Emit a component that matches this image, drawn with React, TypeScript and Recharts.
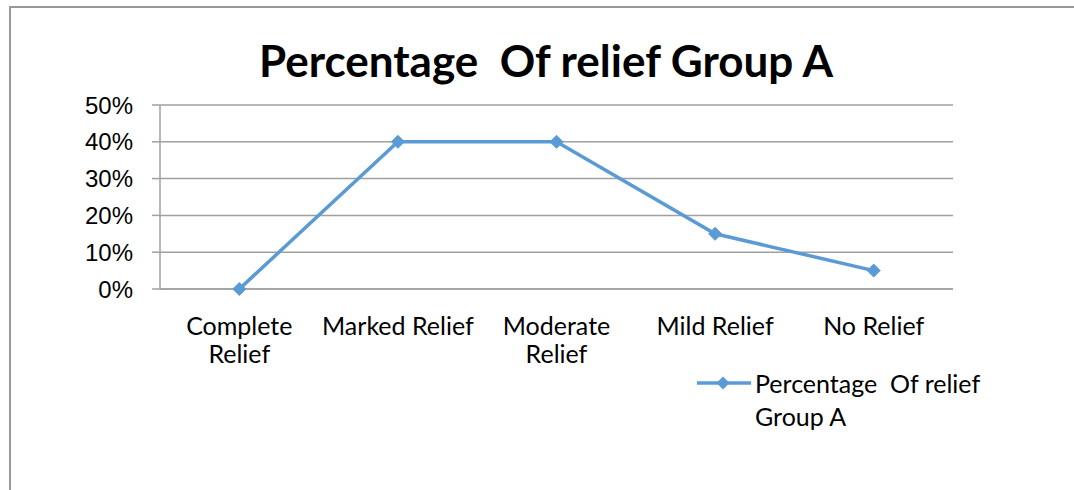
import React from 'react';
import { LineChart, Line, XAxis, YAxis, CartesianGrid, Legend } from 'recharts';

// Relief categories and the share of patients in each
const categories = ['Complete Relief', 'Marked Relief', 'Moderate Relief', 'Mild Relief', 'No Relief'];
const reliefValues = [0, 40, 40, 15, 5];
const yTicks = [0, 10, 20, 30, 40, 50];
const categoryBounds = [0, 1, 2, 3, 4, 5];
const seriesName = 'Percentage  Of relief Group A';
const titleText = 'Percentage  Of relief Group A';

const data = categories.map((category, i) => ({ category, value: reliefValues[i] }));

const LINE_COLOR = '#5B9BD5';
const GRID_COLOR = '#a0a0a0';
const LABEL_FONT = 'Lato, "Open Sans", sans-serif';

const Diamond = (props: any) => {
  const { cx, cy } = props;
  if (cx == null || cy == null) return null;
  const r = 6.5;
  return (
    <polygon
      points={`${cx},${cy - r} ${cx + r},${cy} ${cx},${cy + r} ${cx - r},${cy}`}
      fill={LINE_COLOR}
      stroke={LINE_COLOR}
      strokeWidth={1}
    />
  );
};

// Long labels break onto a second line at the last space
const splitLabel = (label: string): string[] => {
  if (label.length <= 13) return [label];
  const cut = label.lastIndexOf(' ');
  return [label.slice(0, cut), label.slice(cut + 1)];
};

const CategoryTick = (props: any) => {
  const { x, y, payload } = props;
  const lines = splitLabel(String(payload.value));
  return (
    <text x={x} y={y} textAnchor="middle" fill="#000" fontFamily={LABEL_FONT} fontSize={25}>
      {lines.map((ln, i) => (
        <tspan key={i} x={x} y={y + 38 + i * 28}>
          {ln}
        </tspan>
      ))}
    </text>
  );
};

const LegendContent = () => (
  <svg width={320} height={80} style={{ display: 'block', overflow: 'visible' }}>
    <line x1={0} y1={23} x2={54} y2={23} stroke={LINE_COLOR} strokeWidth={3.5} />
    <polygon points="26,16.5 32.5,23 26,29.5 19.5,23" fill={LINE_COLOR} />
    <text x={58} y={33} fill="#000" fontFamily={LABEL_FONT} fontSize={25} style={{ whiteSpace: 'pre' }}>
      <tspan x={58} y={33}>Percentage  Of relief</tspan>
      <tspan x={58} y={66}>Group A</tspan>
    </text>
  </svg>
);

export default function App() {
  return (
    <div style={{ position: 'absolute', left: 0, top: 0, width: 1074, height: 490, overflow: 'hidden', background: '#fff' }}>
      <div
        style={{
          position: 'absolute',
          left: 9,
          top: 6,
          width: 1200,
          height: 600,
          borderLeft: '2px solid #999',
          borderTop: '2px solid #999',
        }}
      />
      <svg width={1074} height={100} style={{ position: 'absolute', left: 0, top: 0 }}>
        <text
          x={546}
          y={77}
          textAnchor="middle"
          fontFamily='Lato, "Open Sans", sans-serif'
          fontWeight={700}
          fontSize={44}
          fill="#000"
          style={{ whiteSpace: 'pre' }}
        >
          {titleText}
        </text>
      </svg>
      <div style={{ position: 'absolute', left: 0, top: 0 }}>
        <LineChart width={1074} height={490} data={data} margin={{ top: 105, right: 121, bottom: 123, left: 10 }}>
          <CartesianGrid horizontal vertical={false} stroke={GRID_COLOR} strokeWidth={1.5} xAxisId="labels" />
          <XAxis
            xAxisId="bounds"
            type="number"
            dataKey="boundsUnused"
            domain={[0, 5]}
            ticks={categoryBounds}
            allowDataOverflow
            tick={false}
            tickSize={8}
            height={8}
            axisLine={{ stroke: GRID_COLOR, strokeWidth: 1.5 }}
            tickLine={{ stroke: GRID_COLOR, strokeWidth: 1.5 }}
          />
          <XAxis
            xAxisId="labels"
            dataKey="category"
            scale="band"
            interval={0}
            axisLine={false}
            tickLine={false}
            tickSize={0}
            tickMargin={0}
            height={70}
            tick={<CategoryTick />}
          />
          <YAxis
            domain={[0, 50]}
            ticks={yTicks}
            width={150}
            tickSize={8}
            tickMargin={19}
            tickFormatter={(v: number) => `${v}%`}
            axisLine={{ stroke: GRID_COLOR, strokeWidth: 1.5 }}
            tickLine={{ stroke: GRID_COLOR, strokeWidth: 1.5 }}
            tick={{ fill: '#000', fontSize: 24, fontFamily: '"Liberation Sans", Arial, sans-serif' }}
          />
          <Legend
            layout="vertical"
            align="center"
            verticalAlign="middle"
            wrapperStyle={{ left: 697, top: 360, width: 320, height: 80 }}
            content={<LegendContent />}
          />
          <Line
            xAxisId="labels"
            type="linear"
            dataKey="value"
            name={seriesName}
            stroke={LINE_COLOR}
            strokeWidth={3.5}
            dot={<Diamond />}
            activeDot={false}
            isAnimationActive={false}
          />
        </LineChart>
      </div>
    </div>
  );
}
